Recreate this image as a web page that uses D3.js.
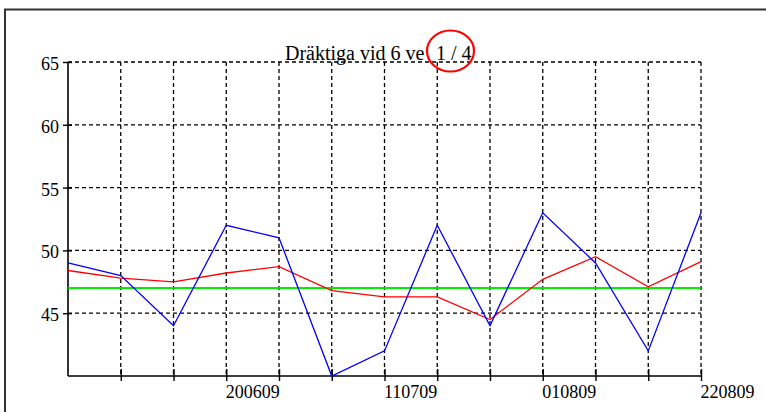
<!DOCTYPE html>
<html>
<head>
<meta charset="utf-8">
<script src="https://cdn.jsdelivr.net/npm/d3@7/dist/d3.min.js"></script>
<style>
html,body{margin:0;padding:0;background:#fff;overflow:hidden;}
svg{display:block;}
text{font-family:"Liberation Serif","Times New Roman",serif;fill:#000;}
</style>
</head>
<body>
<script>
const categories = ["","","","200609","","","110709","","","010809","","","220809"];
const blueValues = [49,48,44,52,51,40,42,52,44,53,49,42,53];
const redValues = [48.4,47.8,47.5,48.2,48.7,46.8,46.3,46.3,44.5,47.7,49.5,47.1,49.1];
const greenValues = [47,47,47,47,47,47,47,47,47,47,47,47,47];
const yTicks = [45,50,55,60,65];
const titleMain = "Dräktiga vid 6 ve";
const titleCount = "1 / 4";

const W = 766, H = 412;
const svg = d3.select("body").append("svg").attr("width", W).attr("height", H);

// outer frame
svg.append("path").attr("d", "M5,420 L5,9.5 L770,9.5")
  .attr("fill","none").attr("stroke","#333").attr("stroke-width",2);

const idx = d3.range(categories.length);
const x = d3.scalePoint().domain(idx).range([68, 701]);
const y = d3.scaleLinear().domain([40, 65]).range([376, 62]);

// grid
const grid = svg.append("g").attr("stroke","#000").attr("stroke-width",1.3).attr("stroke-dasharray","4,3");
grid.selectAll("line.h").data(yTicks).join("line")
  .attr("x1", x(0)).attr("x2", x(idx[idx.length-1]))
  .attr("y1", d=>y(d)).attr("y2", d=>y(d));
grid.selectAll("line.v").data(idx.slice(1)).join("line")
  .attr("x1", d=>x(d)).attr("x2", d=>x(d))
  .attr("y1", y(65)).attr("y2", y(40));

// y axis
const yAxis = svg.append("g").attr("transform", `translate(${x(0)},0)`)
  .call(d3.axisLeft(y).tickValues(yTicks).tickSize(5).tickSizeOuter(0).tickPadding(4));
yAxis.select(".domain").attr("stroke-width",1.6).attr("d", `M0,${y(65)}V${y(40)}`);
yAxis.selectAll(".tick line").attr("x2",-5).attr("x1",4).attr("stroke-width",1.4);
yAxis.selectAll(".tick text").attr("font-size","18px").attr("font-family","Liberation Serif").attr("x",-9).attr("dy","0.42em");

// x axis
const xAxis = svg.append("g").attr("transform", `translate(0,${y(40)})`)
  .call(d3.axisBottom(x).tickFormat(i=>categories[i]).tickSize(5).tickSizeOuter(0));
xAxis.select(".domain").attr("stroke-width",1.6).attr("d", `M${x(0)},0H${x(12)}`);
xAxis.selectAll(".tick line").attr("y1",-7).attr("y2",5).attr("stroke-width",1.4);
xAxis.selectAll(".tick text").attr("font-size","18px").attr("font-family","Liberation Serif")
  .attr("text-anchor","start").attr("x",-1).attr("y",9).attr("dy","0.71em");
xAxis.select(".tick").select("line").attr("display","none");

const line = d3.line().x((d,i)=>x(i)).y(d=>y(d));
svg.append("path").datum(greenValues).attr("d", line).attr("fill","none").attr("stroke","#00ee00").attr("stroke-width",2);
svg.append("path").datum(redValues).attr("d", line).attr("fill","none").attr("stroke","#ff0000").attr("stroke-width",1.3);
svg.append("path").datum(blueValues).attr("d", line).attr("fill","none").attr("stroke","#0000ff").attr("stroke-width",1.3);

// title
const t = svg.append("text").attr("x", 285).attr("y", 60).attr("font-size","20px");
t.append("tspan").text(titleMain);
t.append("tspan").attr("x", 436).text(titleCount);
svg.append("ellipse").attr("cx",450.5).attr("cy",51).attr("rx",23.5).attr("ry",20.5)
  .attr("fill","none").attr("stroke","#ff0000").attr("stroke-width",2.2);
</script>
</body>
</html>
